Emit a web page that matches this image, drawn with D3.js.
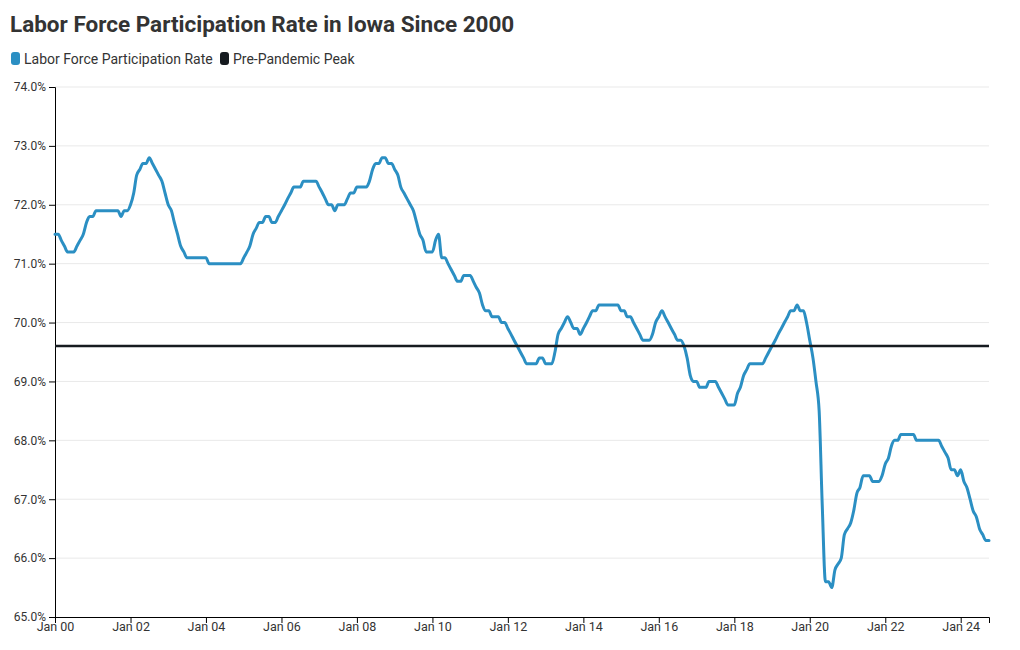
<!DOCTYPE html>
<html><head><meta charset="utf-8">
<script src="https://cdn.jsdelivr.net/npm/d3@7"></script>
<style>
body{margin:0;background:#fff;font-family:Roboto,"Noto Sans",sans-serif;}
</style></head><body>
<svg id="c" width="1020" height="650"></svg>
<script>
const startYear = 2000;
const startMonth = 0;
const lfpr = [
71.5,71.5,71.4,71.3,71.2,71.2,71.2,71.3,71.4,71.5,71.7,71.8,
71.8,71.9,71.9,71.9,71.9,71.9,71.9,71.9,71.9,71.8,71.9,71.9,
72.0,72.2,72.5,72.6,72.7,72.7,72.8,72.7,72.6,72.5,72.4,72.2,
72.0,71.9,71.7,71.5,71.3,71.2,71.1,71.1,71.1,71.1,71.1,71.1,
71.1,71.0,71.0,71.0,71.0,71.0,71.0,71.0,71.0,71.0,71.0,71.0,
71.1,71.2,71.3,71.5,71.6,71.7,71.7,71.8,71.8,71.7,71.7,71.8,
71.9,72.0,72.1,72.2,72.3,72.3,72.3,72.4,72.4,72.4,72.4,72.4,
72.3,72.2,72.1,72.0,72.0,71.9,72.0,72.0,72.0,72.1,72.2,72.2,
72.3,72.3,72.3,72.3,72.4,72.6,72.7,72.7,72.8,72.8,72.7,72.7,
72.6,72.5,72.3,72.2,72.1,72.0,71.9,71.7,71.5,71.4,71.2,71.2,
71.2,71.4,71.5,71.1,71.1,71.0,70.9,70.8,70.7,70.7,70.8,70.8,
70.8,70.7,70.6,70.5,70.3,70.2,70.2,70.1,70.1,70.1,70.0,70.0,
69.9,69.8,69.7,69.6,69.5,69.4,69.3,69.3,69.3,69.3,69.4,69.4,
69.3,69.3,69.3,69.5,69.8,69.9,70.0,70.1,70.0,69.9,69.9,69.8,
69.9,70.0,70.1,70.2,70.2,70.3,70.3,70.3,70.3,70.3,70.3,70.3,
70.2,70.2,70.1,70.1,70.0,69.9,69.8,69.7,69.7,69.7,69.8,70.0,
70.1,70.2,70.1,70.0,69.9,69.8,69.7,69.7,69.6,69.4,69.1,69.0,
69.0,68.9,68.9,68.9,69.0,69.0,69.0,68.9,68.8,68.7,68.6,68.6,
68.6,68.8,68.9,69.1,69.2,69.3,69.3,69.3,69.3,69.3,69.4,69.5,
69.6,69.7,69.8,69.9,70.0,70.1,70.2,70.2,70.3,70.2,70.2,70.0,
69.7,69.4,69.0,68.5,66.9,65.6,65.6,65.5,65.8,65.9,66.0,66.4,
66.5,66.6,66.8,67.1,67.2,67.4,67.4,67.4,67.3,67.3,67.3,67.4,
67.6,67.7,67.9,68.0,68.0,68.1,68.1,68.1,68.1,68.1,68.0,68.0,
68.0,68.0,68.0,68.0,68.0,68.0,67.9,67.8,67.7,67.5,67.5,67.4,
67.5,67.3,67.2,67.0,66.8,66.7,66.5,66.4,66.3,66.3
];
const prePandemicPeak = 69.6;
const yTicks = [65,66,67,68,69,70,71,72,73,74];
const xTickYears = [2000,2002,2004,2006,2008,2010,2012,2014,2016,2018,2020,2022,2024];
const seriesNames = ["Labor Force Participation Rate","Pre-Pandemic Peak"];
const colors = ["#2b8fc3","#161b20"];

const data = lfpr.map((v,i)=>({date:new Date(startYear, startMonth+i, 1), value:v}));

const svg = d3.select("#c");
const margin = {left:55, right:31, top:87, bottom:33};
const W = 1020, H = 650;
const x = d3.scaleTime()
  .domain([data[0].date, data[data.length-1].date])
  .range([margin.left, W-margin.right]);
const y = d3.scaleLinear().domain([65,74]).range([H-margin.bottom, margin.top]);

// title
svg.append("text").attr("x",10).attr("y",32)
  .attr("font-size",22.5).attr("font-weight",700).attr("fill","#333")
  .text("Labor Force Participation Rate in Iowa Since 2000");

// legend
const leg = svg.append("g").attr("font-size",14).attr("fill","#333");
const legX = [11,220];
seriesNames.forEach((n,i)=>{
  leg.append("rect").attr("x",legX[i]).attr("y",52).attr("width",9).attr("height",13)
    .attr("rx",3).attr("fill",colors[i]);
  leg.append("text").attr("x",legX[i]+13).attr("y",64).attr("fill","#333").text(n);
});

// gridlines
svg.append("g").selectAll("line").data(yTicks.filter(t=>t>65)).join("line")
  .attr("x1",margin.left).attr("x2",W-margin.right)
  .attr("y1",d=>y(d)).attr("y2",d=>y(d))
  .attr("stroke","#e9e9e9").attr("stroke-width",1);

// y axis
const ya = svg.append("g").attr("transform",`translate(${margin.left},0)`)
  .call(d3.axisLeft(y).tickValues(yTicks).tickFormat(d=>d.toFixed(1)+"%").tickSize(6).tickPadding(3));
ya.selectAll("text").attr("font-size",12).attr("fill","#333").attr("font-family","Roboto");
ya.select(".domain").attr("stroke","#000");
ya.selectAll(".tick line").attr("stroke","#000");

// x axis
const xa = svg.append("g").attr("transform",`translate(0,${H-margin.bottom})`)
  .call(d3.axisBottom(x).tickValues(xTickYears.map(yr=>new Date(yr,0,1)))
    .tickFormat(d3.timeFormat("Jan %y")).tickSize(6).tickPadding(-1));
xa.selectAll("text").attr("font-size",12.5).attr("fill","#333").attr("font-family","Roboto");
xa.select(".domain").attr("stroke","#000");
xa.selectAll(".tick line").attr("stroke","#000");

// series line
const line = d3.line().x(d=>x(d.date)).y(d=>y(d.value)).curve(d3.curveMonotoneX);
svg.append("path").datum(data).attr("d",line)
  .attr("fill","none").attr("stroke",colors[0]).attr("stroke-width",3)
  .attr("stroke-linejoin","round").attr("stroke-linecap","round");

// peak line
svg.append("line").attr("x1",margin.left).attr("x2",W-margin.right)
  .attr("y1",y(prePandemicPeak)).attr("y2",y(prePandemicPeak))
  .attr("stroke",colors[1]).attr("stroke-width",2.5);
</script>
</body></html>
